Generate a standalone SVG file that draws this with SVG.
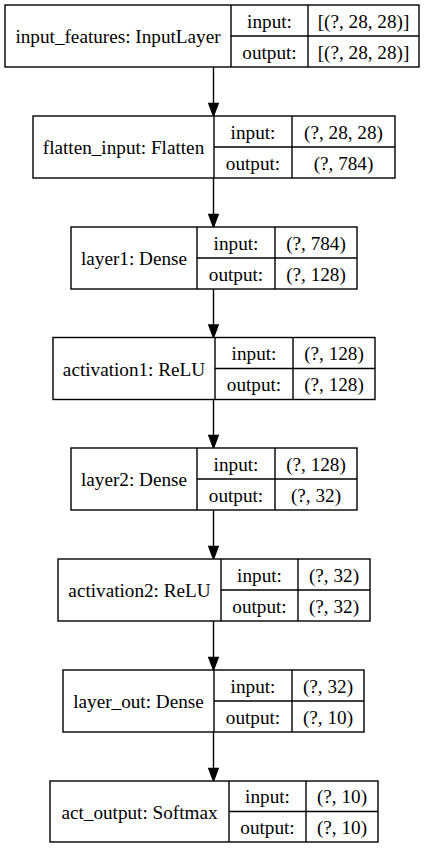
<svg xmlns="http://www.w3.org/2000/svg" width="428" height="848" viewBox="0 0 428 848">
<style>
rect{fill:#fff;stroke:#000;stroke-width:1.4}
.s{stroke:#000;stroke-width:1.4;fill:none}
text{font-family:"Liberation Serif","Times New Roman",serif;font-size:19.2px;fill:#000;text-anchor:middle}
.a{stroke:#000;stroke-width:1.4;fill:none}
.h{fill:#000;stroke:#000;stroke-width:1.4}
</style>
<rect width="428" height="848" style="fill:#fff;stroke:none"/>
<g id="connectors">
<line class="a" x1="213.5" y1="67" x2="213.5" y2="104"/><polygon class="h" points="208.8,103.5 218.2,103.5 213.5,116"/>
<line class="a" x1="213.5" y1="178" x2="213.5" y2="215"/><polygon class="h" points="208.8,214.5 218.2,214.5 213.5,227"/>
<line class="a" x1="213.5" y1="289" x2="213.5" y2="325"/><polygon class="h" points="208.8,325 218.2,325 213.5,337.5"/>
<line class="a" x1="213.5" y1="399.5" x2="213.5" y2="436"/><polygon class="h" points="208.8,435.5 218.2,435.5 213.5,448"/>
<line class="a" x1="213.5" y1="510" x2="213.5" y2="547"/><polygon class="h" points="208.8,546.5 218.2,546.5 213.5,559"/>
<line class="a" x1="213.5" y1="621" x2="213.5" y2="658"/><polygon class="h" points="208.8,657.5 218.2,657.5 213.5,670"/>
<line class="a" x1="213.5" y1="732" x2="213.5" y2="769"/><polygon class="h" points="208.8,768.5 218.2,768.5 213.5,781"/>
</g>
<g id="input_features">
<rect x="5" y="5" width="414" height="62"/>
<line class="s" x1="231" y1="5" x2="231" y2="67"/><line class="s" x1="308" y1="5" x2="308" y2="67"/><line class="s" x1="231" y1="36" x2="419" y2="36"/>
<text x="118" y="43">input_features: InputLayer</text>
<text x="269.5" y="27.5">input:</text><text x="363.5" y="27.5">[(?, 28, 28)]</text>
<text x="269.5" y="58.5">output:</text><text x="363.5" y="58.5">[(?, 28, 28)]</text>
</g>
<g id="flatten_input">
<rect x="33" y="116" width="362" height="62"/>
<line class="s" x1="214" y1="116" x2="214" y2="178"/><line class="s" x1="292" y1="116" x2="292" y2="178"/><line class="s" x1="214" y1="147" x2="395" y2="147"/>
<text x="123.5" y="154">flatten_input: Flatten</text>
<text x="253" y="138.5">input:</text><text x="343.5" y="138.5">(?, 28, 28)</text>
<text x="253" y="169.5">output:</text><text x="343.5" y="169.5">(?, 784)</text>
</g>
<g id="layer1">
<rect x="71" y="227" width="286" height="62"/>
<line class="s" x1="197" y1="227" x2="197" y2="289"/><line class="s" x1="275" y1="227" x2="275" y2="289"/><line class="s" x1="197" y1="258" x2="357" y2="258"/>
<text x="134" y="265">layer1: Dense</text>
<text x="236" y="249.5">input:</text><text x="316" y="249.5">(?, 784)</text>
<text x="236" y="280.5">output:</text><text x="316" y="280.5">(?, 128)</text>
</g>
<g id="activation1">
<rect x="53" y="337.5" width="322" height="62"/>
<line class="s" x1="215" y1="337.5" x2="215" y2="399.5"/><line class="s" x1="293" y1="337.5" x2="293" y2="399.5"/><line class="s" x1="215" y1="368.5" x2="375" y2="368.5"/>
<text x="134" y="375.5">activation1: ReLU</text>
<text x="254" y="360">input:</text><text x="334" y="360">(?, 128)</text>
<text x="254" y="391">output:</text><text x="334" y="391">(?, 128)</text>
</g>
<g id="layer2">
<rect x="71" y="448" width="286" height="62"/>
<line class="s" x1="197" y1="448" x2="197" y2="510"/><line class="s" x1="275" y1="448" x2="275" y2="510"/><line class="s" x1="197" y1="479" x2="357" y2="479"/>
<text x="134" y="486">layer2: Dense</text>
<text x="236" y="470.5">input:</text><text x="316" y="470.5">(?, 128)</text>
<text x="236" y="501.5">output:</text><text x="316" y="501.5">(?, 32)</text>
</g>
<g id="activation2">
<rect x="58" y="559" width="312" height="62"/>
<line class="s" x1="221" y1="559" x2="221" y2="621"/><line class="s" x1="298" y1="559" x2="298" y2="621"/><line class="s" x1="221" y1="590" x2="370" y2="590"/>
<text x="139.5" y="597">activation2: ReLU</text>
<text x="259.5" y="581.5">input:</text><text x="334" y="581.5">(?, 32)</text>
<text x="259.5" y="612.5">output:</text><text x="334" y="612.5">(?, 32)</text>
</g>
<g id="layer_out">
<rect x="63" y="670" width="301" height="62"/>
<line class="s" x1="214" y1="670" x2="214" y2="732"/><line class="s" x1="292" y1="670" x2="292" y2="732"/><line class="s" x1="214" y1="701" x2="364" y2="701"/>
<text x="138.5" y="708">layer_out: Dense</text>
<text x="253" y="692.5">input:</text><text x="328" y="692.5">(?, 32)</text>
<text x="253" y="723.5">output:</text><text x="328" y="723.5">(?, 10)</text>
</g>
<g id="act_output">
<rect x="50" y="781" width="328" height="61"/>
<line class="s" x1="229" y1="781" x2="229" y2="842"/><line class="s" x1="306" y1="781" x2="306" y2="842"/><line class="s" x1="229" y1="811.5" x2="378" y2="811.5"/>
<text x="139.5" y="818.5">act_output: Softmax</text>
<text x="267.5" y="803">input:</text><text x="342" y="803">(?, 10)</text>
<text x="267.5" y="833.5">output:</text><text x="342" y="833.5">(?, 10)</text>
</g>
</svg>
